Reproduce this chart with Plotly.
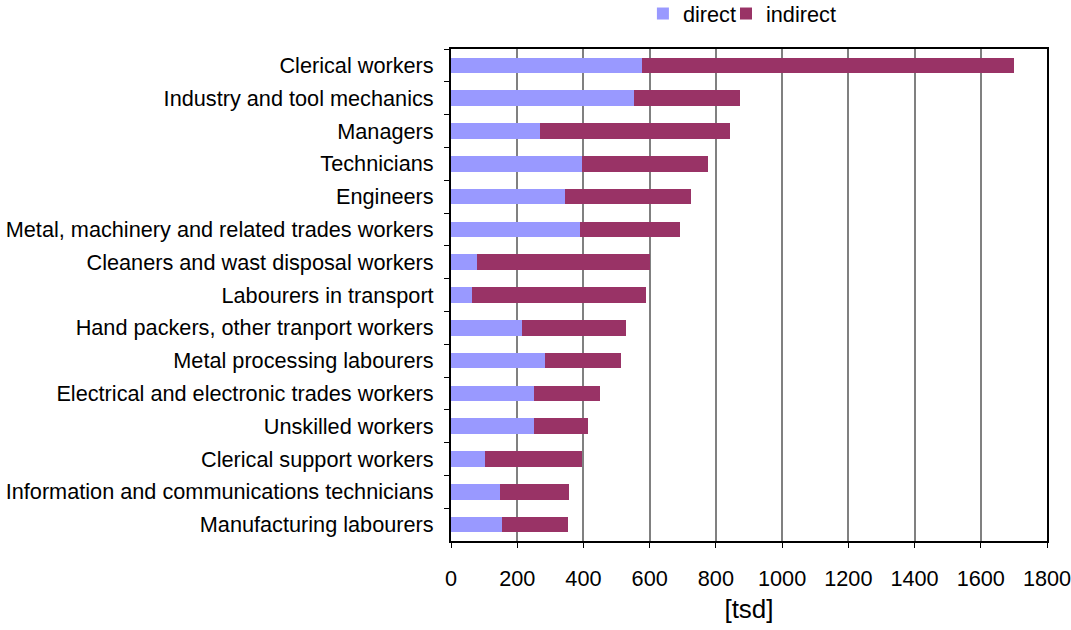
import plotly.graph_objects as go

occupations = [
    "Clerical workers",
    "Industry and tool mechanics",
    "Managers",
    "Technicians",
    "Engineers",
    "Metal, machinery and related trades workers",
    "Cleaners and wast disposal workers",
    "Labourers in transport",
    "Hand packers, other tranport workers",
    "Metal processing labourers",
    "Electrical and electronic trades workers",
    "Unskilled workers",
    "Clerical support workers",
    "Information and communications technicians",
    "Manufacturing labourers",
]
direct = [576, 552, 268, 395, 344, 389, 78, 63, 214, 283, 250, 250, 102, 148, 154]
indirect = [1124, 322, 576, 380, 380, 304, 522, 525, 314, 230, 199, 163, 294, 208, 199]

x_ticks = list(range(0, 1801, 200))

FONT = "Liberation Sans, Arial, sans-serif"
FS = 21.7

fig = go.Figure()
fig.add_trace(go.Bar(y=occupations, x=direct, name="direct", orientation="h",
                     marker=dict(color="#9999FF", line=dict(width=0)),
                     legend="legend", showlegend=True))
fig.add_trace(go.Bar(y=occupations, x=indirect, name="indirect", orientation="h",
                     marker=dict(color="#993366", line=dict(width=0)),
                     legend="legend2", showlegend=True))

legend_common = dict(orientation="h", xanchor="left", y=1.114, yref="paper",
                     yanchor="top", font=dict(size=FS), itemwidth=30,
                     bgcolor="rgba(0,0,0,0)")

fig.update_layout(
    barmode="stack",
    bargap=0.52,
    showlegend=True,
    width=1071,
    height=630,
    margin=dict(l=451, r=24, t=49, b=89, autoexpand=False),
    paper_bgcolor="white",
    plot_bgcolor="white",
    font=dict(family=FONT, size=FS, color="black"),
    legend=dict(x=0.322, **legend_common),
    legend2=dict(x=0.4614, **legend_common),
)
fig.update_xaxes(
    range=[0, 1800], tickvals=x_ticks, showgrid=True, gridcolor="#808080", gridwidth=2,
    showline=True, linecolor="black", linewidth=2, mirror=True,
    ticks="outside", ticklen=5, tickcolor="black", zeroline=False,
    ticklabelstandoff=12, ticklabeloverflow="allow",
    title=dict(text="[tsd]", standoff=10), fixedrange=True,
)
fig.update_yaxes(
    categoryorder="array", categoryarray=occupations, autorange="reversed",
    showline=True, linecolor="black", linewidth=2, mirror=True,
    ticks="outside", ticklen=5, tickcolor="black", tickson="boundaries",
    showgrid=False, ticklabelstandoff=11, fixedrange=True,
)

fig.write_html("out.html", config={"displayModeBar": False},
               post_script="document.body.style.margin='0';")
